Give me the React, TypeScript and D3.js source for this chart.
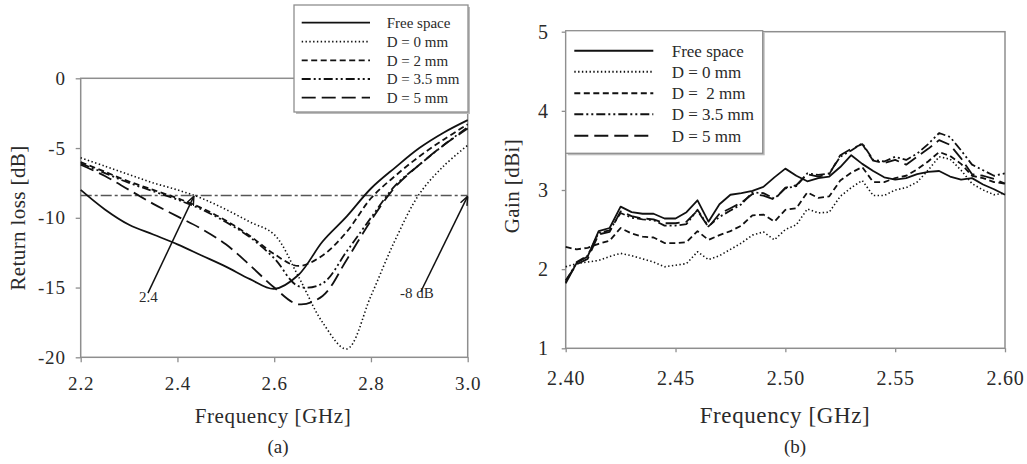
import * as d3 from 'd3';
import React, { useRef, useEffect } from 'react';

const FONT = '"Liberation Serif", "Times New Roman", Times, serif';
const INK = '#111';
const TEXT = '#2a2a2a';
const FRAME = '#8e8e8e';

// line styles per series: free space, D=0, D=2, D=3.5, D=5
const DASHES = [null, '1.4,2.4', '6,3.5', '9,3,2,3,2,3', '14,6'];

// ---- (a) return loss ----
const rlLabels = ['Free space', 'D = 0 mm', 'D = 2 mm', 'D = 3.5 mm', 'D = 5 mm'];
const rlFreq = [2.2, 2.25, 2.3, 2.35, 2.4, 2.45, 2.5, 2.55, 2.6, 2.65, 2.7, 2.75, 2.8, 2.85, 2.9, 2.95, 3.0];
const rlFree = [-8.0, -9.4, -10.5, -11.2, -11.9, -12.7, -13.5, -14.4, -15.1, -14.1, -11.7, -9.9, -7.9, -6.4, -5.0, -3.9, -3.0];
const rlD0 = [-5.7, -6.3, -6.9, -7.5, -8.0, -8.6, -9.4, -10.3, -11.2, -14.2, -17.5, -19.4, -15.6, -11.6, -8.3, -6.3, -4.8];
const rlD2 = [-6.0, -6.7, -7.4, -8.0, -8.6, -9.3, -10.2, -11.3, -12.6, -13.45, -12.7, -11.0, -8.6, -7.0, -5.6, -4.4, -3.3];
const rlD35 = [-6.1, -6.8, -7.5, -8.1, -8.7, -9.4, -10.3, -11.4, -12.9, -14.9, -14.7, -12.4, -10.0, -7.7, -6.2, -4.8, -3.5];
const rlD5 = [-6.2, -7.0, -8.0, -9.0, -9.9, -10.8, -11.9, -13.4, -15.0, -16.2, -15.6, -13.0, -10.2, -7.8, -6.2, -4.8, -3.6];
const rlXTicks = [2.2, 2.4, 2.6, 2.8, 3.0];
const rlYTicks = [0, -5, -10, -15, -20];
const rlLevel = -8.4;
// arrows: [fromX, fromY, toX, toY]
const rlArrows = [[2.339, -15.4, 2.434, -8.45], [2.903, -15.3, 3.0, -8.45]];
const rlNotes = [{ text: '2.4', f: 2.34, v: -16.0 }, { text: '-8 dB', f: 2.895, v: -15.75 }];

// ---- (b) gain ----
const gLabels = ['Free space', 'D = 0 mm', 'D =  2 mm', 'D = 3.5 mm', 'D = 5 mm'];
const gFreq = [2.400, 2.405, 2.410, 2.415, 2.420, 2.425, 2.430, 2.435, 2.440, 2.445,
  2.450, 2.455, 2.460, 2.465, 2.470, 2.475, 2.480, 2.485, 2.490, 2.495,
  2.500, 2.505, 2.510, 2.515, 2.520, 2.525, 2.530, 2.535, 2.540, 2.545,
  2.550, 2.555, 2.560, 2.565, 2.570, 2.575, 2.580, 2.585, 2.590, 2.595, 2.600];
const gFree = [1.82, 2.08, 2.16, 2.48, 2.52, 2.79, 2.72, 2.70, 2.70, 2.64,
  2.64, 2.72, 2.87, 2.60, 2.82, 2.94, 2.96, 2.99, 3.04, 3.16,
  3.27, 3.18, 3.11, 3.15, 3.17, 3.29, 3.44, 3.33, 3.24, 3.16,
  3.13, 3.15, 3.20, 3.23, 3.24, 3.17, 3.13, 3.15, 3.07, 3.01, 2.94];
const gD0 = [2.03, 2.07, 2.09, 2.11, 2.16, 2.20, 2.17, 2.13, 2.09, 2.03,
  2.05, 2.07, 2.22, 2.12, 2.17, 2.25, 2.33, 2.43, 2.47, 2.37,
  2.50, 2.56, 2.76, 2.71, 2.72, 2.92, 3.03, 3.12, 2.93, 2.93,
  3.00, 3.03, 3.10, 3.25, 3.42, 3.39, 3.25, 3.08, 3.00, 2.94, 2.96];
const gD2 = [2.28, 2.25, 2.27, 2.32, 2.36, 2.52, 2.45, 2.41, 2.40, 2.33,
  2.33, 2.34, 2.48, 2.37, 2.43, 2.48, 2.55, 2.68, 2.69, 2.60,
  2.75, 2.77, 2.97, 2.90, 2.92, 3.12, 3.22, 3.29, 3.10, 3.10,
  3.15, 3.18, 3.26, 3.36, 3.48, 3.43, 3.33, 3.18, 3.15, 3.10, 3.08];
const gD35 = [1.84, 2.09, 2.17, 2.46, 2.49, 2.71, 2.65, 2.63, 2.62, 2.55,
  2.55, 2.57, 2.75, 2.54, 2.66, 2.74, 2.82, 2.97, 2.96, 2.89,
  3.02, 3.05, 3.21, 3.19, 3.21, 3.42, 3.50, 3.59, 3.38, 3.36,
  3.42, 3.38, 3.46, 3.58, 3.72, 3.67, 3.50, 3.32, 3.25, 3.18, 3.21];
const gD5 = [1.86, 2.06, 2.13, 2.44, 2.47, 2.73, 2.67, 2.64, 2.63, 2.58,
  2.58, 2.60, 2.74, 2.53, 2.70, 2.77, 2.84, 2.95, 2.93, 2.88,
  3.03, 3.06, 3.20, 3.17, 3.20, 3.44, 3.52, 3.58, 3.37, 3.34,
  3.38, 3.32, 3.42, 3.52, 3.63, 3.57, 3.40, 3.20, 3.18, 3.14, 3.08];
const gXTicks = [2.40, 2.45, 2.50, 2.55, 2.60];
const gYTicks = [1, 2, 3, 4, 5];

function styleAxis(ax, size) {
  ax.select('.domain').remove();
  ax.selectAll('line').attr('stroke', FRAME).attr('stroke-width', 1.3);
  ax.selectAll('text')
    .attr('font-family', FONT)
    .attr('font-size', size)
    .attr('letter-spacing', 0.8)
    .attr('fill', TEXT);
}

function drawLegend(g, box, rows, sample, textX, size, labels, width) {
  g.append('rect')
    .attr('x', box.x + 2).attr('y', box.y + 2)
    .attr('width', box.w).attr('height', box.h)
    .attr('fill', '#bbb');
  g.append('rect')
    .attr('x', box.x).attr('y', box.y)
    .attr('width', box.w).attr('height', box.h)
    .attr('fill', '#fff').attr('stroke', FRAME).attr('stroke-width', 1.3);
  labels.forEach((lab, i) => {
    const yy = box.y + rows[i];
    g.append('line')
      .attr('x1', box.x + sample[0]).attr('x2', box.x + sample[1])
      .attr('y1', yy).attr('y2', yy)
      .attr('stroke', INK).attr('stroke-width', width)
      .attr('stroke-dasharray', DASHES[i]);
    g.append('text')
      .attr('x', box.x + textX).attr('y', yy).attr('dy', '0.35em')
      .attr('font-family', FONT).attr('font-size', size)
      .attr('fill', TEXT).style('white-space', 'pre')
      .text(lab);
  });
}

function drawReturnLoss(g) {
  const x = d3.scaleLinear().domain([2.2, 3.0]).range([80.7, 467.7]);
  const y = d3.scaleLinear().domain([-20, 0]).range([357.3, 78.3]);

  g.append('rect')
    .attr('x', x(2.2)).attr('y', y(0))
    .attr('width', x(3.0) - x(2.2)).attr('height', y(-20) - y(0))
    .attr('fill', 'none').attr('stroke', FRAME).attr('stroke-width', 1.5);

  const xa = g.append('g').attr('transform', `translate(0,${y(-20)})`)
    .call(d3.axisBottom(x).tickValues(rlXTicks).tickFormat(d3.format('.1f')).tickSize(5).tickPadding(14));
  styleAxis(xa, 19);
  const ya = g.append('g').attr('transform', `translate(${x(2.2)},0)`)
    .call(d3.axisLeft(y).tickValues(rlYTicks).tickFormat(d => String(d)).tickSize(5).tickPadding(10));
  styleAxis(ya, 19);

  g.append('line')
    .attr('x1', x(2.2)).attr('x2', x(3.0))
    .attr('y1', y(rlLevel)).attr('y2', y(rlLevel))
    .attr('stroke', '#555').attr('stroke-width', 1.6)
    .attr('stroke-dasharray', '11,3,3,3');

  const line = d3.line()
    .x((d, i) => x(rlFreq[i]))
    .y(d => y(d))
    .curve(d3.curveCatmullRom.alpha(0.5));

  [rlFree, rlD0, rlD2, rlD35, rlD5].forEach((vals, i) => {
    g.append('path').datum(vals)
      .attr('d', line)
      .attr('fill', 'none')
      .attr('stroke', INK)
      .attr('stroke-width', i === 1 ? 1.6 : 1.8)
      .attr('stroke-dasharray', DASHES[i]);
  });

  rlArrows.forEach(a => {
    g.append('line')
      .attr('x1', x(a[0])).attr('y1', y(a[1]))
      .attr('x2', x(a[2])).attr('y2', y(a[3]))
      .attr('stroke', INK).attr('stroke-width', 1.5)
      .attr('marker-end', 'url(#arrowHead)');
  });

  rlNotes.forEach(n => {
    g.append('text')
      .attr('x', x(n.f)).attr('y', y(n.v))
      .attr('text-anchor', 'middle')
      .attr('font-family', FONT).attr('font-size', 15)
      .attr('fill', TEXT)
      .text(n.text);
  });

  g.append('text')
    .attr('transform', 'translate(25,218) rotate(-90)')
    .attr('text-anchor', 'middle')
    .attr('font-family', FONT).attr('font-size', 21)
    .attr('letter-spacing', 0.4)
    .attr('fill', TEXT)
    .text('Return loss [dB]');

  g.append('text')
    .attr('x', 273).attr('y', 423)
    .attr('text-anchor', 'middle')
    .attr('font-family', FONT).attr('font-size', 21)
    .attr('letter-spacing', 0.6)
    .attr('fill', TEXT)
    .text('Frequency [GHz]');

  g.append('text')
    .attr('x', 278).attr('y', 453)
    .attr('text-anchor', 'middle')
    .attr('font-family', FONT).attr('font-size', 19)
    .attr('fill', TEXT)
    .text('(a)');

  drawLegend(g, { x: 294, y: 5, w: 174, h: 107 },
    [17.7, 36.7, 55.3, 74, 92.7], [7.7, 76], 92.7, 15, rlLabels, 1.8);
}

function drawGain(g) {
  const x = d3.scaleLinear().domain([2.4, 2.6]).range([565.7, 1005]);
  const y = d3.scaleLinear().domain([1, 5]).range([348.3, 31.7]);

  g.append('rect')
    .attr('x', x(2.4)).attr('y', y(5))
    .attr('width', x(2.6) - x(2.4)).attr('height', y(1) - y(5))
    .attr('fill', 'none').attr('stroke', FRAME).attr('stroke-width', 1.5);

  const xa = g.append('g').attr('transform', `translate(0,${y(1)})`)
    .call(d3.axisBottom(x).tickValues(gXTicks).tickFormat(d3.format('.2f')).tickSize(4).tickPadding(19));
  styleAxis(xa, 20);
  const ya = g.append('g').attr('transform', `translate(${x(2.4)},0)`)
    .call(d3.axisLeft(y).tickValues(gYTicks).tickFormat(d => String(d)).tickSize(4).tickPadding(13));
  styleAxis(ya, 20);

  const line = d3.line()
    .x((d, i) => x(gFreq[i]))
    .y(d => y(d));

  [gFree, gD0, gD2, gD35, gD5].forEach((vals, i) => {
    g.append('path').datum(vals)
      .attr('d', line)
      .attr('fill', 'none')
      .attr('stroke', INK)
      .attr('stroke-width', i === 1 ? 1.6 : 1.8)
      .attr('stroke-linejoin', 'round')
      .attr('stroke-dasharray', DASHES[i]);
  });

  g.append('text')
    .attr('transform', 'translate(519,186) rotate(-90)')
    .attr('text-anchor', 'middle')
    .attr('font-family', FONT).attr('font-size', 21)
    .attr('letter-spacing', 0.4)
    .attr('fill', TEXT)
    .text('Gain [dBi]');

  g.append('text')
    .attr('x', 785).attr('y', 423)
    .attr('text-anchor', 'middle')
    .attr('font-family', FONT).attr('font-size', 23)
    .attr('letter-spacing', 0.6)
    .attr('fill', TEXT)
    .text('Frequency [GHz]');

  g.append('text')
    .attr('x', 795).attr('y', 453)
    .attr('text-anchor', 'middle')
    .attr('font-family', FONT).attr('font-size', 19)
    .attr('fill', TEXT)
    .text('(b)');

  drawLegend(g, { x: 565.7, y: 30.7, w: 197, h: 122.6 },
    [20, 41, 62.6, 83.6, 105], [8.6, 87.6], 106, 17, gLabels, 2);
}

const App = () => {
  const ref = useRef(null);

  useEffect(() => {
    const svg = d3.select(ref.current);
    svg.selectAll('*').remove();

    svg.append('defs').append('marker')
      .attr('id', 'arrowHead')
      .attr('viewBox', '0 0 10 10')
      .attr('refX', 10).attr('refY', 5)
      .attr('markerWidth', 9).attr('markerHeight', 9)
      .attr('markerUnits', 'userSpaceOnUse')
      .attr('orient', 'auto')
      .append('path')
      .attr('d', 'M0,1 L10,5 L0,9')
      .attr('fill', 'none')
      .attr('stroke', INK)
      .attr('stroke-width', 1.6);

    drawReturnLoss(svg.append('g'));
    drawGain(svg.append('g'));
  }, []);

  return (
    <svg ref={ref} width={1027} height={464}
      style={{ position: 'absolute', left: 0, top: 0, background: '#fff' }} />
  );
};

export default App;
